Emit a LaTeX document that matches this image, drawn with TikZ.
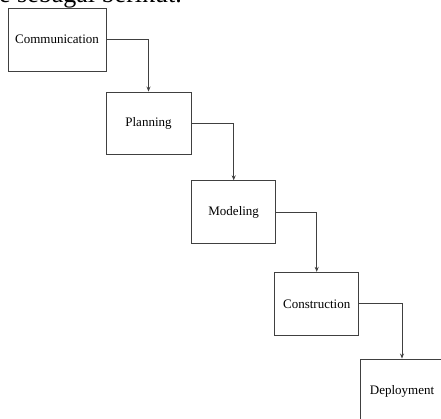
\documentclass[tikz,border=0pt]{standalone}
\usepackage{fontspec}
\setmainfont{Liberation Serif}
\usetikzlibrary{arrows.meta}
\begin{document}
\begin{tikzpicture}[x=1pt,y=-1pt,
  stage/.style={draw=black!75,line width=0.9pt,fill=white,inner sep=0pt,font=\fontsize{13}{15}\selectfont},
  flow/.style={draw=black!75,line width=0.9pt,-{Stealth[length=5pt,width=4pt]}}]
\useasboundingbox (0,0) rectangle (441,418);
\clip (0,0) rectangle (441,418);
\node[anchor=base west,font=\fontsize{26}{30}\selectfont,inner sep=0pt] (head) at (-1,2) {e sebagai berikut.};
\node[stage,minimum width=98pt,minimum height=63pt] (comm) at (57,39.5) {Communication};
\node[stage,minimum width=85pt,minimum height=62pt] (plan) at (148.5,123) {Planning};
\node[stage,minimum width=84pt,minimum height=63pt] (model) at (233.7,212.3) {Modeling};
\node[stage,minimum width=84pt,minimum height=63pt] (cons) at (316.7,303.8) {Construction};
\node[stage,minimum width=84pt,minimum height=64pt] (dep) at (402,391) {Deployment};
\draw[flow] (comm.east) -| (plan.north);
\draw[flow] (plan.east) -| (model.north);
\draw[flow] (model.east) -| (cons.north);
\draw[flow] (cons.east) -| (dep.north);
\end{tikzpicture}
\end{document}
